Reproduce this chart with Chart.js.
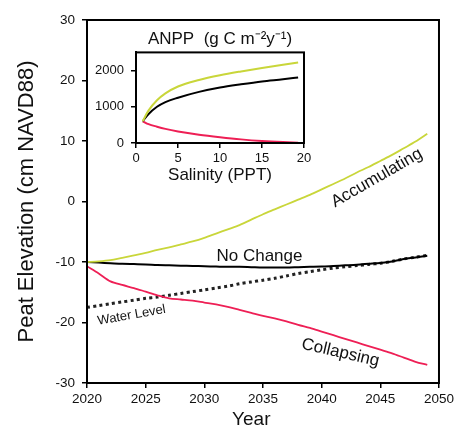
<!DOCTYPE html>
<html>
<head>
<meta charset="utf-8">
<script src="https://cdn.jsdelivr.net/npm/chart.js@4.4.1/dist/chart.umd.min.js"></script>
<style>
  html, body { margin: 0; padding: 0; background: #fff; }
  #wrap { position: relative; width: 457px; height: 427px; }
  #main { position: absolute; left: 0; top: 0; }
  #inset { position: absolute; left: 90px; top: 26px; }
</style>
</head>
<body>
<div id="wrap">
  <canvas id="main" width="457" height="427"></canvas>
  <canvas id="inset" width="230" height="170"></canvas>
</div>
<script>
// main panel: peat elevation by year
const years = [2020, 2021, 2022, 2023, 2024, 2025, 2026, 2027, 2028, 2029,
  2030, 2031, 2032, 2033, 2034, 2035, 2036, 2037, 2038, 2039,
  2040, 2041, 2042, 2043, 2044, 2045, 2046, 2047, 2048, 2049]
const accumulating = [-10, -9.9, -9.7, -9.3, -8.9, -8.5, -8.0, -7.6, -7.1, -6.6,
  -6.0, -5.3, -4.6, -3.9, -3.0, -2.1, -1.3, -0.5, 0.3, 1.1,
  2.0, 2.9, 3.8, 4.8, 5.7, 6.7, 7.7, 8.8, 9.9, 11.2]
const noChange = [-10.0, -10.1, -10.2, -10.3, -10.35, -10.4, -10.5, -10.55, -10.6, -10.65,
  -10.7, -10.75, -10.8, -10.8, -10.85, -10.9, -10.9, -10.9, -10.85, -10.8,
  -10.75, -10.65, -10.55, -10.45, -10.3, -10.15, -9.9, -9.5, -9.25, -8.95]
const collapsing = [-10.7, -11.9, -13.2, -13.8, -14.3, -14.9, -15.5, -16.0, -16.2, -16.4,
  -16.7, -17.0, -17.4, -17.9, -18.4, -18.9, -19.3, -19.8, -20.4, -20.9,
  -21.5, -22.1, -22.7, -23.3, -23.9, -24.5, -25.1, -25.8, -26.5, -27.0]
const waterLevel = [-17.5, -17.2, -16.9, -16.6, -16.3, -16.0, -15.8, -15.5, -15.2, -14.9,
  -14.6, -14.3, -14.0, -13.6, -13.3, -13.0, -12.7, -12.3, -11.9, -11.6,
  -11.3, -11.0, -10.8, -10.6, -10.4, -10.2, -9.9, -9.5, -9.2, -8.9]

// inset: ANPP vs salinity
const salinity = [0.8, 1.5, 2.5, 3.5, 5, 7.5, 10, 12.5, 15, 17.5, 19.3]
const anppAccum = [600, 900, 1180, 1370, 1560, 1740, 1870, 1975, 2070, 2160, 2220]
const anppNoChange = [600, 800, 1000, 1130, 1250, 1410, 1530, 1620, 1700, 1760, 1810]
const anppCollapse = [600, 520, 450, 390, 320, 230, 160, 100, 55, 25, 10]
const anppTicks = [0, 1000, 2000]

// curve labels, placed in data units
const curveLabels = [
  { text: 'Accumulating', x: 2044.7, y: 3.9, angle: -30, size: 17 },
  { text: 'No Change', x: 2034.7, y: -9.0, angle: 0, size: 17 },
  { text: 'Water Level', x: 2023.8, y: -18.8, angle: -10, size: 13 },
  { text: 'Collapsing', x: 2041.6, y: -25.0, angle: 13, size: 17 }
]

const YELLOW = '#c9d63a'
const RED = '#ee1f55'
const INK = '#111'

Chart.defaults.font.family = '"Liberation Sans", Arial, sans-serif'
Chart.defaults.color = INK

const pts = (xs, ys) => xs.map((x, i) => ({ x: x, y: ys[i] }))

// draw the frame round the plot area
const boxPlugin = {
  id: 'box',
  afterDraw(chart) {
    const a = chart.chartArea
    const ctx = chart.ctx
    ctx.save()
    ctx.strokeStyle = '#000'
    ctx.lineWidth = 2
    ctx.strokeRect(a.left, a.top, a.right - a.left, a.bottom - a.top)
    ctx.restore()
  }
}

const labelPlugin = {
  id: 'curveLabels',
  afterDraw(chart) {
    const ctx = chart.ctx
    const sx = chart.scales.x
    const sy = chart.scales.y
    ctx.save()
    ctx.fillStyle = INK
    ctx.textAlign = 'center'
    ctx.textBaseline = 'middle'
    curveLabels.forEach(l => {
      ctx.save()
      ctx.translate(sx.getPixelForValue(l.x), sy.getPixelForValue(l.y))
      ctx.rotate(l.angle * Math.PI / 180)
      ctx.font = l.size + 'px "Liberation Sans", Arial, sans-serif'
      ctx.fillText(l.text, 0, 0)
      ctx.restore()
    })
    // x axis title, sits a little left of centre in the original
    ctx.font = '19px "Liberation Sans", Arial, sans-serif'
    ctx.fillText('Year', sx.getPixelForValue(2034), 420)
    ctx.restore()
  }
}

const tickGrid = {
  drawOnChartArea: false,
  drawTicks: true,
  tickLength: 5,
  color: '#000',
  lineWidth: 1.5
}
const axisBorder = { display: true, color: '#000', width: 2 }

new Chart(document.getElementById('main'), {
  type: 'line',
  data: {
    datasets: [
      { label: 'Accumulating', data: pts(years, accumulating), borderColor: YELLOW, borderWidth: 1.8 },
      { label: 'No Change', data: pts(years, noChange), borderColor: '#000', borderWidth: 2 },
      { label: 'Collapsing', data: pts(years, collapsing), borderColor: RED, borderWidth: 1.8 },
      { label: 'Water Level', data: pts(years, waterLevel), borderColor: '#222', borderWidth: 3, borderDash: [3, 3.3] }
    ]
  },
  options: {
    responsive: false,
    animation: false,
    layout: { padding: { left: 0, right: 16, top: 20, bottom: 0 } },
    elements: { point: { radius: 0 }, line: { tension: 0.3, fill: false } },
    plugins: { legend: { display: false }, tooltip: { enabled: false } },
    scales: {
      x: {
        type: 'linear',
        min: 2020,
        max: 2050,
        ticks: { stepSize: 5, padding: 3, font: { size: 13.5 }, color: INK, callback: v => String(v) },
        grid: tickGrid,
        border: axisBorder,
        afterFit(s) { s.height = 44 }
      },
      y: {
        min: -30,
        max: 30,
        ticks: { stepSize: 10, padding: 7, font: { size: 13.5 }, color: INK },
        grid: tickGrid,
        border: axisBorder,
        title: {
          display: true,
          text: 'Peat Elevation (cm NAVD88)',
          font: { size: 22 },
          color: INK,
          padding: { top: 14, bottom: 0 }
        },
        afterFit(s) { s.width = 87 }
      }
    }
  },
  plugins: [boxPlugin, labelPlugin]
})

new Chart(document.getElementById('inset'), {
  type: 'line',
  data: {
    datasets: [
      { data: pts(salinity, anppAccum), borderColor: YELLOW, borderWidth: 2 },
      { data: pts(salinity, anppNoChange), borderColor: '#000', borderWidth: 2 },
      { data: pts(salinity, anppCollapse), borderColor: RED, borderWidth: 2 }
    ]
  },
  options: {
    responsive: false,
    animation: false,
    layout: { padding: { left: 0, right: 16, top: 0, bottom: 0 } },
    elements: { point: { radius: 0 }, line: { cubicInterpolationMode: 'monotone', fill: false } },
    plugins: {
      legend: { display: false },
      tooltip: { enabled: false },
      title: {
        display: true,
        text: 'ANPP  (g C m\u207B\u00B2y\u207B\u00B9)',
        fullSize: false,
        font: { size: 17, weight: 'normal' },
        color: INK,
        padding: { top: 3, bottom: 3 }
      }
    },
    scales: {
      x: {
        type: 'linear',
        min: 0,
        max: 20,
        ticks: { stepSize: 5, padding: 3, font: { size: 13 }, color: INK },
        grid: tickGrid,
        border: axisBorder,
        title: {
          display: true,
          text: 'Salinity (PPT)',
          font: { size: 17 },
          color: INK,
          padding: { top: 0, bottom: 10 }
        },
        afterFit(s) { s.height = 53 }
      },
      y: {
        min: 0,
        max: 2500,
        ticks: { padding: 7, font: { size: 13 }, color: INK, callback: v => String(v) },
        afterBuildTicks(s) { s.ticks = anppTicks.map(v => ({ value: v })) },
        grid: tickGrid,
        border: axisBorder,
        afterFit(s) { s.width = 46 }
      }
    }
  },
  plugins: [boxPlugin]
})
</script>
</body>
</html>
